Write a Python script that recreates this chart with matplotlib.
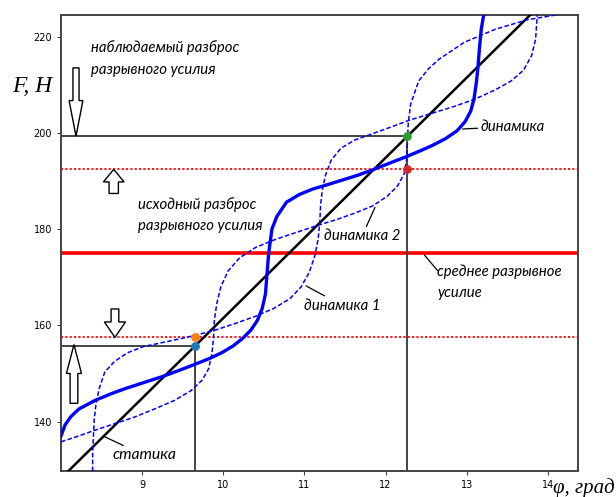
import matplotlib
matplotlib.use("Agg")
import matplotlib.pyplot as plt
from matplotlib.patches import FancyArrow

# статика (straight line)
static_phi = [8.0, 14.0]
static_F = [128.2, 228.1]

# динамика (solid)
dyn_phi = [8.00, 8.05, 8.12, 8.22, 8.42, 8.62, 8.80, 9.02, 9.24, 9.45, 9.65, 9.83, 9.98,
           10.12, 10.24, 10.34, 10.42, 10.48, 10.52, 10.54, 10.56, 10.60, 10.66, 10.78,
           10.94, 11.10, 11.28, 11.47, 11.66, 11.84, 12.05, 12.25, 12.42, 12.58, 12.74,
           12.88, 12.98, 13.05, 13.09, 13.12, 13.14, 13.16, 13.18, 13.21]
dyn_F = [137.0, 139.3, 141.0, 142.6, 144.4, 145.8, 146.9, 148.1, 149.3, 150.6, 151.9, 153.1, 154.3,
         155.7, 157.3, 159.0, 161.0, 163.5, 166.5, 170.8, 175.0, 180.0, 182.6, 185.6,
         187.2, 188.3, 189.2, 190.2, 191.2, 192.3, 193.7, 195.0, 196.2, 197.4, 198.8,
         200.4, 202.3, 204.5, 207.0, 210.5, 213.8, 218.0, 221.5, 224.5]

# динамика 1 (dashed)
dyn1_phi = [8.39, 8.39, 8.40, 8.41, 8.43, 8.47, 8.54, 8.66, 8.82, 9.02, 9.30, 9.60, 9.90,
            10.15, 10.40, 10.62, 10.82, 10.96, 11.06, 11.13, 11.17, 11.19, 11.20, 11.22,
            11.26, 11.33, 11.45, 11.62, 11.82, 12.05, 12.29, 12.58, 12.85, 13.10, 13.35,
            13.55, 13.70, 13.80, 13.85, 13.87]
dyn1_F = [129.7, 133.0, 137.0, 140.5, 143.5, 146.8, 150.3, 152.5, 154.3, 155.6, 156.6, 157.7, 159.0,
          160.4, 161.9, 163.5, 165.5, 168.0, 171.0, 174.5, 178.0, 181.5, 185.0, 188.0,
          191.2, 194.3, 196.8, 198.5, 199.7, 201.1, 202.6, 204.1, 205.5, 207.0, 208.9,
          210.8, 213.0, 216.0, 219.5, 224.5]

# динамика 2 (dashed)
dyn2_phi = [8.00, 8.20, 8.40, 8.65, 8.90, 9.15, 9.40, 9.60, 9.74, 9.82, 9.86, 9.88, 9.89,
            9.92, 9.97, 10.06, 10.20, 10.40, 10.65, 10.90, 11.15, 11.40, 11.62, 11.84,
            12.02, 12.15, 12.23, 12.26, 12.27, 12.28, 12.31, 12.41, 12.53, 12.66, 12.97,
            13.35, 13.75, 14.14]
dyn2_F = [135.8, 136.9, 138.1, 139.5, 140.9, 142.6, 144.4, 146.4, 148.6, 151.0, 154.0, 157.5, 161.0,
          164.5, 168.0, 171.3, 174.0, 176.2, 177.9, 179.3, 180.7, 182.0, 183.3, 184.8,
          186.8, 189.0, 191.5, 194.5, 198.0, 202.0, 206.0, 210.8, 213.3, 215.3, 218.8,
          221.5, 223.5, 224.6]

F_mean = 175.0
F_init = [157.5, 192.4]        # исходный разброс
F_obs = [155.7, 199.3]         # наблюдаемый разброс
phi_obs = [9.65, 12.27]

fig = plt.figure(figsize=(6.16, 4.97), dpi=100)
ax = fig.add_axes([0.099, 0.052, 0.839, 0.918])
xmin, xmax = 8.0, 14.37
ymin, ymax = 129.7, 224.5

ax.axhline(F_mean, color="red", lw=2.6, zorder=2)
for f in F_init:
    ax.axhline(f, color="red", lw=1.3, ls=(0, (1.2, 1.2)), zorder=2)

for p, f in zip(phi_obs, F_obs):
    ax.plot([xmin, p], [f, f], color="#444444", lw=1.4, zorder=2)
    ax.plot([p, p], [ymin, f], color="#444444", lw=1.4, zorder=2)

ax.plot(static_phi, static_F, color="black", lw=1.8, zorder=3)
ax.plot(dyn_phi, dyn_F, color="blue", lw=2.4, zorder=4)
ax.plot(dyn1_phi, dyn1_F, color="blue", lw=1.1, ls=(0, (3, 1.5)), zorder=4)
ax.plot(dyn2_phi, dyn2_F, color="blue", lw=1.1, ls=(0, (3, 1.5)), zorder=4)

ax.scatter([phi_obs[0]], [F_obs[0]], color="C0", s=28, zorder=6)
ax.scatter([phi_obs[0]], [F_init[0]], color="C1", s=28, zorder=6)
ax.scatter([phi_obs[1]], [F_obs[1]], color="C2", s=28, zorder=6)
ax.scatter([phi_obs[1]], [F_init[1]], color="C3", s=28, zorder=6)

# hollow block arrows
arrow_kw = dict(fc="white", ec="black", lw=1.0, length_includes_head=True, zorder=5)
ax.add_patch(FancyArrow(8.185, 213.5, 0, -14.2, width=0.075, head_width=0.17, head_length=7.4, **arrow_kw))
ax.add_patch(FancyArrow(8.65, 187.4, 0, 5.0, width=0.115, head_width=0.255, head_length=2.6, **arrow_kw))
ax.add_patch(FancyArrow(8.665, 163.4, 0, -5.9, width=0.095, head_width=0.26, head_length=3.2, **arrow_kw))
ax.add_patch(FancyArrow(8.16, 143.8, 0, 12.2, width=0.095, head_width=0.185, head_length=6.0, **arrow_kw))

tfont = dict(family="Lato", style="italic", fontsize=10.7, color="black")
ax.text(8.365, 215.5, "наблюдаемый разброс\nразрывного усилия", va="center", ha="left",
        linespacing=1.7, **tfont)
ax.text(8.95, 182.9, "исходный разброс\nразрывного усилия", va="center", ha="left",
        linespacing=1.6, **tfont)
ax.text(12.64, 169.0, "среднее разрывное\nусилие", va="center", ha="left",
        linespacing=1.6, **tfont)

lead = dict(arrowstyle="-", color="black", lw=0.9, shrinkA=0, shrinkB=0)
ax.annotate("динамика", xy=(12.95, 200.8), xytext=(13.17, 201.3), va="center", ha="left",
            arrowprops=lead, **tfont)
ax.annotate("динамика 2", xy=(11.87, 184.5), xytext=(11.71, 178.5), va="center", ha="center",
            arrowprops=lead, **tfont)
ax.annotate("динамика 1", xy=(11.02, 168.2), xytext=(11.0, 164.1), va="center", ha="left",
            arrowprops=lead, **tfont)
ax.annotate("", xy=(12.48, 174.6), xytext=(12.64, 171.4), arrowprops=lead)
ax.annotate("статика", xy=(8.52, 137.0), xytext=(8.63, 133.0), va="center", ha="left",
            arrowprops=lead, **dict(tfont, fontsize=11.3))

ax.set_xlim(xmin, xmax)
ax.set_ylim(ymin, ymax)
ax.set_xticks([9, 10, 11, 12, 13, 14])
ax.set_yticks([140, 160, 180, 200, 220])
ax.tick_params(labelsize=7, length=3, color="#444444")
for s in ax.spines.values():
    s.set_color("#444444")
    s.set_linewidth(1.4)

lfont = dict(family="Liberation Serif", style="italic", fontsize=17)
fig.text(0.019, 0.826, "F, H", ha="left", va="center", **lfont)
fig.text(0.897, 0.018, "φ, град", ha="left", va="center",
         **dict(lfont, fontsize=15))

fig.savefig("out.png", dpi=100)
